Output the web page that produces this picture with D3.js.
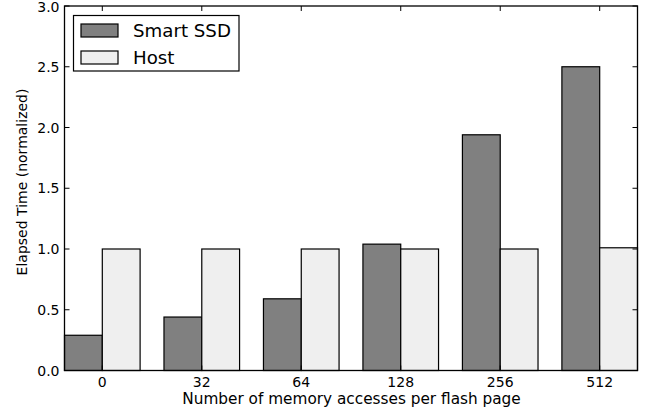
<!DOCTYPE html>
<html><head><meta charset="utf-8">
<script src="https://cdn.jsdelivr.net/npm/d3@7"></script>
<style>body{margin:0;background:#fff}svg{display:block}text{font-family:"DejaVu Sans",sans-serif;fill:#000}</style>
</head><body><svg id="c" width="651" height="413"></svg>
<script>
const categories = ["0","32","64","128","256","512"];
const smartSSD = [0.29, 0.44, 0.59, 1.04, 1.94, 2.50];
const host = [1.00, 1.00, 1.00, 1.00, 1.00, 1.01];
const yTicks = [0.0, 0.5, 1.0, 1.5, 2.0, 2.5, 3.0];
const seriesNames = ["Smart SSD", "Host"];
const seriesColors = ["#808080", "#efefef"];

const svg = d3.select("#c");
const L = 64.5, R = 637.5, T = 6, B = 370.5;
const w = 0.38;
const x = d3.scaleLinear().domain([-w, categories.length - 1 + w]).range([L, R]);
const y = d3.scaleLinear().domain([0, 3]).range([B, T]);

const g = svg.append("g");
const series = [smartSSD, host];
series.forEach((vals, si) => {
  g.selectAll(null).data(vals).enter().append("rect")
    .attr("x", (d, i) => x(i - w + si * w))
    .attr("width", x(w) - x(0))
    .attr("y", d => y(d))
    .attr("height", d => y(0) - y(d))
    .attr("fill", seriesColors[si])
    .attr("stroke", "#000").attr("stroke-width", 1.2);
});

// frame
svg.append("rect").attr("x", L).attr("y", T).attr("width", R - L).attr("height", B - T)
  .attr("fill", "none").attr("stroke", "#000").attr("stroke-width", 1.3);

const fs = "14px";
yTicks.forEach(t => {
  const yy = y(t);
  svg.append("line").attr("x1", L).attr("x2", L + 5).attr("y1", yy).attr("y2", yy).attr("stroke", "#000");
  svg.append("line").attr("x1", R).attr("x2", R - 5).attr("y1", yy).attr("y2", yy).attr("stroke", "#000");
  svg.append("text").attr("x", L - 5).attr("y", Math.max(yy, 7)).attr("dy", "0.36em").attr("text-anchor", "end")
    .style("font-size", fs).text(d3.format(".1f")(t));
});
categories.forEach((c, i) => {
  const xx = x(i);
  svg.append("line").attr("x1", xx).attr("x2", xx).attr("y1", B).attr("y2", B - 5).attr("stroke", "#000");
  svg.append("line").attr("x1", xx).attr("x2", xx).attr("y1", T).attr("y2", T + 5).attr("stroke", "#000");
  svg.append("text").attr("x", xx).attr("y", 386.5).attr("text-anchor", "middle")
    .style("font-size", fs).text(c);
});

svg.append("text").attr("x", 351.5).attr("y", 404).attr("text-anchor", "middle")
  .style("font-size", "15.3px").text("Number of memory accesses per flash page");
svg.append("text").attr("transform", `translate(26.5,182) rotate(-90)`).attr("text-anchor", "middle")
  .style("font-size", fs).text("Elapsed Time (normalized)");

// legend
const lg = svg.append("g");
lg.append("rect").attr("x", 73.5).attr("y", 15.5).attr("width", 165.5).attr("height", 55.5)
  .attr("fill", "#fff").attr("stroke", "#000").attr("stroke-width", 1.2);
seriesNames.forEach((n, i) => {
  const yy = 24 + i * 27;
  lg.append("rect").attr("x", 81).attr("y", yy).attr("width", 37).attr("height", 13)
    .attr("fill", seriesColors[i]).attr("stroke", "#000").attr("stroke-width", 1.2);
  lg.append("text").attr("x", 133).attr("y", yy + 12.5).style("font-size", "18.2px").text(n);
});
</script></body></html>
